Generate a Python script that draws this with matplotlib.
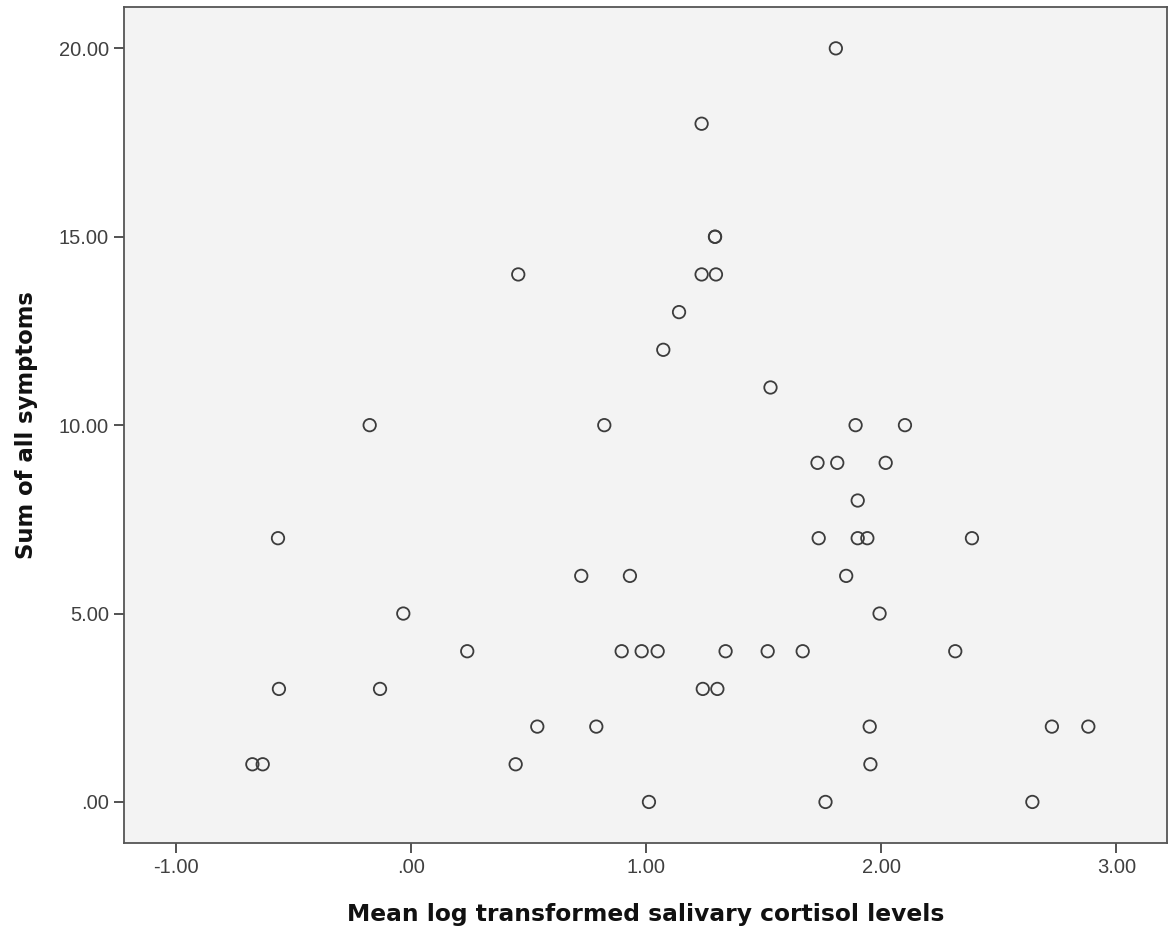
import matplotlib
matplotlib.use('Agg')
import matplotlib.pyplot as plt

# mean log transformed salivary cortisol (x) vs sum of all symptoms (y)
cortisol = [1.807, 1.236, 1.293, 1.293, 0.456, 1.236, 1.297, 1.140, 1.073, 1.529,
            -0.176, 0.822, 1.891, 2.101, 1.729, 1.813, 2.019, 1.900,
            -0.566, 1.734, 1.900, 1.941, 2.386, 0.724, 0.931, 1.851,
            -0.033, 1.993, 0.239, 0.896, 0.981, 1.049, 1.338, 1.517, 1.666, 2.315,
            -0.562, -0.132, 1.241, 1.303, 0.537, 0.788, 1.951, 2.726, 2.881,
            -0.675, -0.631, 0.445, 1.954, 1.012, 1.763, 2.643]
symptoms = [20, 18, 15, 15, 14, 14, 14, 13, 12, 11,
            10, 10, 10, 10, 9, 9, 9, 8,
            7, 7, 7, 7, 7, 6, 6, 6,
            5, 5, 4, 4, 4, 4, 4, 4, 4, 4,
            3, 3, 3, 3, 2, 2, 2, 2, 2,
            1, 1, 1, 1, 0, 0, 0]

xticks = [-1, 0, 1, 2, 3]
xtick_labels = ['-1.00', '.00', '1.00', '2.00', '3.00']
yticks = [0, 5, 10, 15, 20]
ytick_labels = ['.00', '5.00', '10.00', '15.00', '20.00']

fig = plt.figure(figsize=(11.7, 9.34), dpi=100)
ax = fig.add_axes([0.1062, 0.0974, 0.8915, 0.8948])
ax.set_facecolor('#f3f3f3')

ax.scatter(cortisol, symptoms, s=80, facecolors='none', edgecolors='#3c3c3c',
           linewidths=1.3, zorder=3)

ax.set_xlim(-1.22, 3.217)
ax.set_ylim(-1.09, 21.09)

ax.set_xticks(xticks)
ax.set_xticklabels(xtick_labels)
ax.set_yticks(yticks)
ax.set_yticklabels(ytick_labels)
ax.tick_params(direction='out', length=7, width=1.3, color='#444444',
               labelsize=14.5, labelcolor='#404040', pad=4)
for lab in ax.get_xticklabels() + ax.get_yticklabels():
    lab.set_family('Liberation Sans')

for sp in ax.spines.values():
    sp.set_color('#555555')
    sp.set_linewidth(1.3)

ax.set_xlabel('Mean log transformed salivary cortisol levels', fontsize=16.8,
              fontweight='bold', family='DejaVu Sans', color='#111111', va='center')
ax.set_ylabel('Sum of all symptoms', fontsize=16.4, fontweight='bold',
              family='DejaVu Sans', color='#111111', va='center')
ax.xaxis.set_label_coords(0.5, -0.086)
ax.yaxis.set_label_coords(-0.094, 0.5)

plt.savefig('out.png', dpi=100)
